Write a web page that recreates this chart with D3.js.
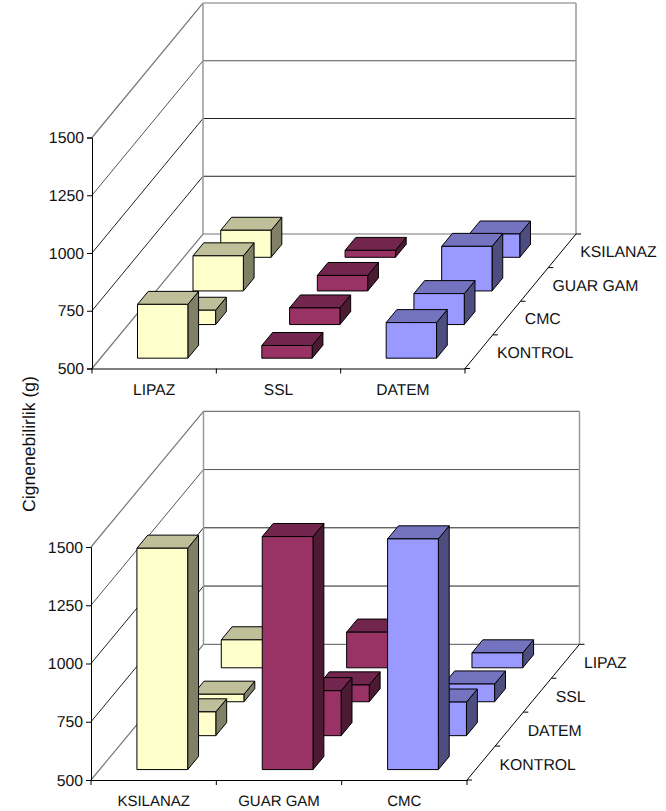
<!DOCTYPE html>
<meta charset="utf-8">
<style>
body { margin: 0; background: #fff; }
text { font-family: "Liberation Sans", Arial, sans-serif; font-size: 15.8px; fill: #111; text-rendering: geometricPrecision; }
.domain { stroke: #000; }
</style>
<svg width="666" height="811"></svg>
<script src="https://d3js.org/d3.v7.min.js"></script>
<script>
// values
var yTicks = [500, 750, 1000, 1250, 1500];

var topCategories = ["LIPAZ", "SSL", "DATEM"];
var topRows = ["KONTROL", "CMC", "GUAR GAM", "KSILANAZ"];
var topKontrol = [733, 555, 654];
var topCmc = [562, 572, 634];
var topGuar = [652, 567, 693];
var topKsilanaz = [617, 530, 601];

var bottomCategories = ["KSILANAZ", "GUAR GAM", "CMC"];
var bottomRows = ["KONTROL", "DATEM", "SSL", "LIPAZ"];
var bottomKontrol = [1450, 1500, 1490];
var bottomDatem = [602, 693, 644];
var bottomSsl = [532, 572, 576];
var bottomLipaz = [620, 653, 564];

var frontColors = ["#ffffcc", "#993366", "#9999ff"];
var topColors = ["#bfbf99", "#73264d", "#7373bf"];
var sideColors = ["#808066", "#4d1a33", "#4d4d80"];
var gridColors = ["#777", "#222", "#222", "#555", "#777"];

var svg = d3.select("svg");

function drawChart(o) {
    var g = svg.append("g");

    var y = d3.scaleLinear().domain([500, 1500]).range([0, o.h]);
    var x = d3.scaleBand().domain(o.categories).range([0, o.w]);
    var xBar = d3.scaleBand().domain(o.categories).range([0, o.w]).paddingInner(0.595).paddingOuter(0.2975);
    var z = d3.scaleBand().domain(o.rows).range([0, 1]);
    var zBar = d3.scaleBand().domain(o.rows).range([0, 1]).paddingInner(0.614).paddingOuter(0.307);

    // plane position + depth (0..1) + height to screen
    function px(a, d) { return o.x0 + a + d * o.dx; }
    function py(d, b) { return o.y0 - d * o.dy - b; }
    function pt(a, d, b) { return [px(a, d), py(d, b)]; }

    var line = d3.line();

    // walls and gridlines
    yTicks.forEach(function(t, i) {
        var b = y(t);
        g.append("path")
            .attr("d", line([pt(0, 0, b), pt(0, 1, b), pt(o.w, 1, b)]))
            .attr("fill", "none")
            .attr("stroke", gridColors[i])
            .attr("stroke-width", i == 0 || i == 4 ? 1.2 : 1);
    });
    g.append("line")
        .attr("x1", px(0, 1)).attr("x2", px(0, 1))
        .attr("y1", py(1, 0)).attr("y2", py(1, o.h))
        .attr("stroke", "#999").attr("stroke-width", 1.5);
    g.append("line")
        .attr("x1", px(o.w, 1)).attr("x2", px(o.w, 1))
        .attr("y1", py(1, 0)).attr("y2", py(1, o.h))
        .attr("stroke", "#999").attr("stroke-width", 1.5);

    // bars, back row first
    d3.range(o.rows.length - 1, -1, -1).forEach(function(r) {
        var row = o.rows[r];
        var d0 = zBar(row), d1 = d0 + zBar.bandwidth();
        o.categories.forEach(function(c, i) {
            var a0 = xBar(c), a1 = a0 + xBar.bandwidth();
            var b = y(o.values[r][i]);
            var bar = g.append("g").attr("stroke", "#000").attr("stroke-width", 1).attr("stroke-linejoin", "round");
            bar.append("path")
                .attr("d", line([pt(a1, d0, 0), pt(a1, d1, 0), pt(a1, d1, b), pt(a1, d0, b)]) + "Z")
                .attr("fill", sideColors[i]);
            bar.append("path")
                .attr("d", line([pt(a0, d0, b), pt(a1, d0, b), pt(a1, d1, b), pt(a0, d1, b)]) + "Z")
                .attr("fill", topColors[i]);
            bar.append("path")
                .attr("d", line([pt(a0, d0, 0), pt(a1, d0, 0), pt(a1, d0, b), pt(a0, d0, b)]) + "Z")
                .attr("fill", frontColors[i]);
        });
    });

    // value axis
    var yScreen = d3.scaleLinear().domain([500, 1500]).range([o.y0, o.y0 - o.h]);
    g.append("g")
        .attr("transform", "translate(" + o.x0 + ",0)")
        .call(d3.axisLeft(yScreen).tickValues(yTicks).tickSize(5).tickPadding(3).tickFormat(d3.format("d")))
        .call(function(a) { a.selectAll("text").style("font-size", "15.8px").style("font-family", null); });

    // category axis, ticks sit between the bands
    g.append("g")
        .attr("transform", "translate(" + o.x0 + "," + o.y0 + ")")
        .call(d3.axisBottom(x).tickSize(0).tickPadding(o.catPad))
        .call(function(a) { a.selectAll("text").style("font-size", o.catFont).style("font-family", null); });
    d3.range(o.categories.length + 1).forEach(function(i) {
        g.append("line")
            .attr("x1", o.x0 + i * x.step()).attr("x2", o.x0 + i * x.step())
            .attr("y1", o.y0).attr("y2", o.y0 + 5)
            .attr("stroke", "#000");
    });

    // depth axis
    g.append("line")
        .attr("x1", px(o.w, 0)).attr("y1", py(0, 0))
        .attr("x2", px(o.w, 1)).attr("y2", py(1, 0))
        .attr("stroke", "#000");
    d3.range(o.rows.length + 1).forEach(function(r) {
        var d = r * z.step();
        g.append("line")
            .attr("x1", px(o.w, d)).attr("x2", px(o.w, d) + 5)
            .attr("y1", py(d, 0)).attr("y2", py(d, 0))
            .attr("stroke", "#000");
    });
    o.rows.forEach(function(row, r) {
        g.append("text")
            .attr("x", px(o.w, z(row)) + o.rowOff)
            .attr("y", py(z(row), 0) - o.rowUp)
            .text(row);
    });
}

drawChart({
    categories: topCategories, rows: topRows,
    values: [topKontrol, topCmc, topGuar, topKsilanaz],
    x0: 92, y0: 368.5, w: 373, h: 231, dx: 111, dy: 134.5,
    catPad: 15, catFont: "15.6px", rowOff: 32, rowUp: 10.5
});

drawChart({
    categories: bottomCategories, rows: bottomRows,
    values: [bottomKontrol, bottomDatem, bottomSsl, bottomLipaz],
    x0: 91, y0: 780, w: 376, h: 233, dx: 112.5, dy: 135.7,
    catPad: 15, catFont: "15px", rowOff: 32.5, rowUp: 10
});

svg.append("text")
    .attr("transform", "translate(35,444) rotate(-90)")
    .attr("text-anchor", "middle")
    .style("font-size", "17.6px")
    .text("Cignenebilirlik (g)");
</script>
